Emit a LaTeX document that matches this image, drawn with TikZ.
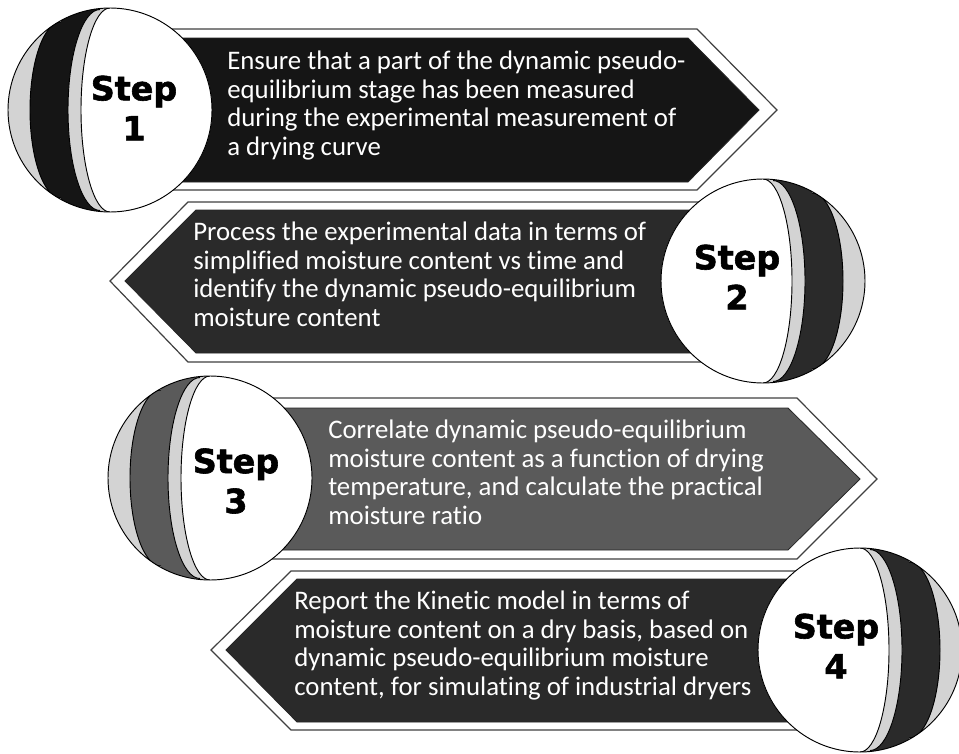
\documentclass[tikz,border=0pt]{standalone}
\usepackage{fontspec}
\setmainfont{Carlito}[Ligatures=NoCommon]
\newfontfamily\stepfont{DejaVu Sans Bold}[FakeBold=1.8]
\definecolor{bandlight}{HTML}{D3D3D3}
\definecolor{darkone}{HTML}{151515}
\definecolor{darktwo}{HTML}{2A2A2A}
\definecolor{midthree}{HTML}{5A5A5A}

\tikzset{
    ballline/.style={draw=black, line width=0.7pt},
    ball/.pic={
        \begin{scope}
            \clip (0,0) circle (102);
            \fill[bandlight] (0,0) circle (102);
            % dark band
            \fill[#1] (-49,-110) rectangle (110,110);
            \fill[#1] (-49,0) ellipse (31 and 88);
            % light band
            \fill[bandlight] (-10,-110) rectangle (110,110);
            \fill[bandlight] (-10,0) ellipse (32 and 100.5);
            % white face
            \fill[white] (0,-110) rectangle (110,110);
            \fill[white] (0,0) ellipse (29 and 102);
            % band borders
            \draw[ballline] (-49,88) arc[start angle=90, end angle=270, x radius=31, y radius=88];
            \draw[ballline] (-10,100.5) arc[start angle=90, end angle=270, x radius=32, y radius=100.5];
            \draw[ballline] (0,102) arc[start angle=90, end angle=270, x radius=29, y radius=102];
        \end{scope}
        \draw[ballline] (0,0) circle (102);
    }
}

\begin{document}
\begin{tikzpicture}[
    x=0.75pt, y=-0.75pt,
    banout/.style={draw=black!75, fill=white, line width=0.9pt},
    banin/.style={draw=black!85, line width=0.6pt},
    desc/.style={anchor=north west, inner sep=0pt, align=left, text=white,
        font=\fontsize{20.1}{21.4}\selectfont},
    steplabel/.style={inner sep=0pt, align=center,
        font=\stepfont\fontsize{25}{30}\selectfont}
]
\useasboundingbox (0,0) rectangle (959,753);

% Полосы со стрелками
\draw[banout] (150,29) -- (697,29) -- (777,110) -- (697,190) -- (150,190) -- cycle;
\draw[banin, fill=darkone] (150,38) -- (688,38) -- (759,110) -- (688,182) -- (150,182) -- cycle;

\draw[banout] (760,202) -- (188,202) -- (110,281) -- (188,362) -- (760,362) -- cycle;
\draw[banin, fill=darktwo] (760,210) -- (196,210) -- (125,281) -- (196,353) -- (760,353) -- cycle;

\draw[banout] (250,398) -- (797,398) -- (877,479) -- (797,559) -- (250,559) -- cycle;
\draw[banin, fill=midthree] (250,408) -- (788,408) -- (860,479) -- (788,550) -- (250,550) -- cycle;

\draw[banout] (850,571) -- (291,571) -- (211,650) -- (291,730) -- (850,730) -- cycle;
\draw[banin, fill=darktwo] (850,579) -- (297,579) -- (226,650) -- (297,722) -- (850,722) -- cycle;

% Шары
\pic at (110,110) {ball=darkone};
\pic[xscale=-1] at (763,281) {ball=darktwo};
\pic at (210,478) {ball=midthree};
\pic[xscale=-1] at (860,650) {ball=darktwo};

% Подписи шагов
\node[steplabel] (lab1) at (134,108) {Step\\1};
\node[steplabel] (lab2) at (737,277) {Step\\2};
\node[steplabel] (lab3) at (236,481) {Step\\3};
\node[steplabel] (lab4) at (836,646) {Step\\4};

% Тексты
\node[desc] (desc1) at (227,51) {Ensure that a part of the dynamic pseudo-\\equilibrium stage has been measured\\during the experimental measurement of\\a drying curve};
\node[desc] (desc2) at (193,222) {Process the experimental data in terms of\\simplified moisture content vs time and\\identify the dynamic pseudo-equilibrium\\moisture content};
\node[desc] (desc3) at (328,420) {Correlate dynamic pseudo-equilibrium\\moisture content as a function of drying\\temperature, and calculate the practical\\moisture ratio};
\node[desc] (desc4) at (294,591) {Report the Kinetic model in terms of\\moisture content on a dry basis, based on\\dynamic pseudo-equilibrium moisture\\content, for simulating of industrial dryers};
\end{tikzpicture}
\end{document}
